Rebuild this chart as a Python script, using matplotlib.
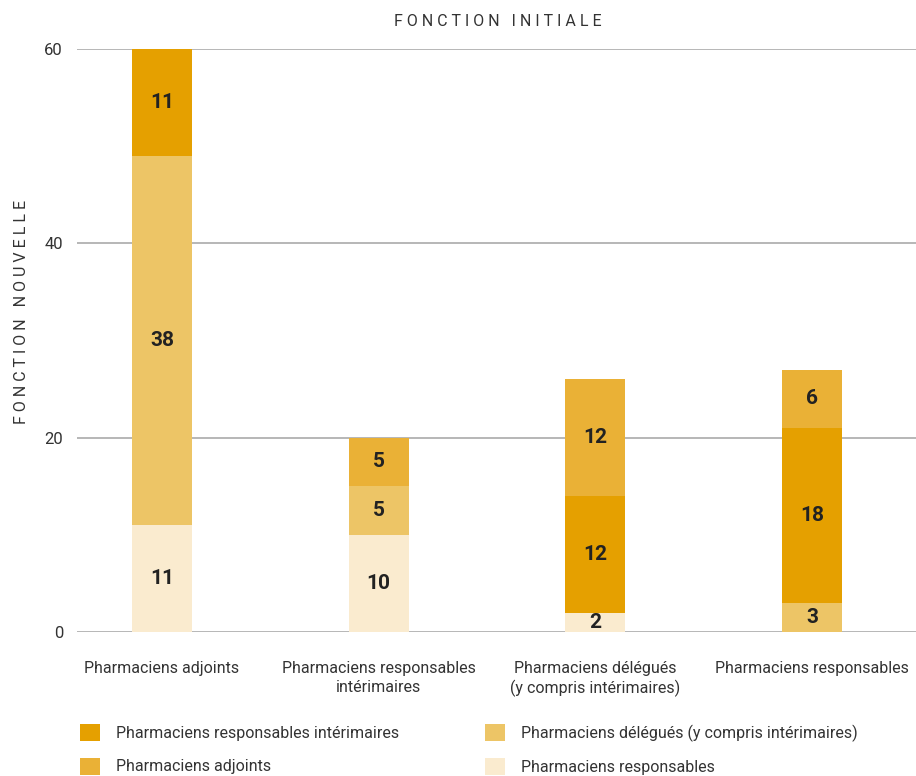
import matplotlib
matplotlib.use("Agg")
import matplotlib.pyplot as plt
import numpy as np

plt.rcParams['font.family'] = ['Roboto', 'DejaVu Sans']

categories = ["Pharmaciens adjoints", "Pharmaciens responsables\nintérimaires",
              "Pharmaciens délégués\n(y compris intérimaires)", "Pharmaciens responsables"]
# stacking order bottom -> top
series_names = ["Pharmaciens responsables", "Pharmaciens délégués (y compris intérimaires)",
                "Pharmaciens responsables intérimaires", "Pharmaciens adjoints"]
responsables = [11, 10, 2, 0]
delegues = [38, 5, 0, 3]
resp_interim = [11, 0, 12, 18]
adjoints = [0, 5, 12, 6]
series_values = [responsables, delegues, resp_interim, adjoints]
colors = ["#FAEBCF", "#EDC566", "#E5A000", "#EAB136"]
yticks = [0, 20, 40, 60]

fig = plt.figure(figsize=(9.16, 7.76), dpi=100)
ax = fig.add_axes([77/916, 144/776, 1 - 77/916, (632-49)/776])

x = np.arange(len(categories))
bottom = np.zeros(len(categories))
handles = {}
for name, vals, col in zip(series_names, series_values, colors):
    vals = np.array(vals, dtype=float)
    bars = ax.bar(x, vals, bottom=bottom, width=0.277, color=col, zorder=3, label=name)
    handles[name] = bars
    for xi, v, b in zip(x, vals, bottom):
        if v > 0:
            ax.text(xi, b + v/2, f"{int(v)}", ha='center', va='center',
                    fontsize=15, fontweight='bold', color='#222222', zorder=4)
    bottom += vals

ax.set_xlim(-0.392, 3.48)
ax.set_ylim(0, 60)
ax.set_yticks(yticks)
ax.set_yticklabels([str(t) for t in yticks], fontsize=12, color='#333333')
ax.yaxis.grid(True, color='#AAAAAA', linewidth=1.2, zorder=0)
ax.set_axisbelow(True)
for s in ax.spines.values():
    s.set_visible(False)
ax.tick_params(axis='y', length=0, pad=10)
ax.tick_params(axis='x', length=0, pad=21)
ax.set_xticks(x)
ax.set_xticklabels(categories, fontsize=11.5, color='#333333', linespacing=1.3)

fig.text(498/916, 1 - 22/776, "F O N C T I O N   I N I T I A L E", ha='center', va='center',
         fontsize=11.5, color='#333333')
fig.text(22/916, 1 - 312/776, "F O N C T I O N   N O U V E L L E", ha='center', va='center',
         rotation=90, fontsize=11.5, color='#333333')

order = ["Pharmaciens responsables intérimaires", "Pharmaciens adjoints",
         "Pharmaciens délégués (y compris intérimaires)", "Pharmaciens responsables"]
leg = fig.legend([handles[n] for n in order], order, ncol=2, loc='upper left',
                 bbox_to_anchor=(80/916, 1 - 724/776), frameon=False, fontsize=11.5,
                 handlelength=1.25, handleheight=1.25, handletextpad=1.0, borderpad=0,
                 borderaxespad=0, columnspacing=5.4, labelspacing=1.05, labelcolor='#333333')

fig.savefig("out.png", dpi=100)
